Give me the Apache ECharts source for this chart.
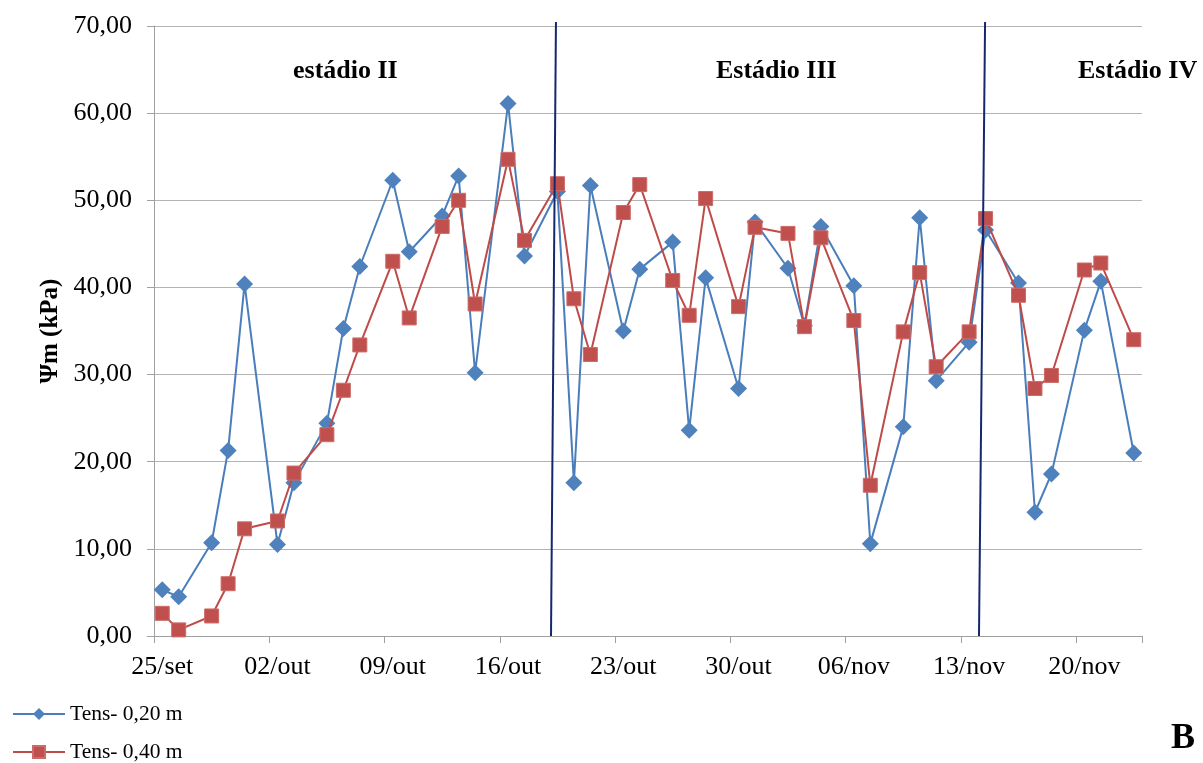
<!DOCTYPE html>
<html>
<head>
<meta charset="utf-8">
<script src="https://cdn.jsdelivr.net/npm/echarts@6/dist/echarts.min.js"></script>
<style>
  html, body { margin: 0; padding: 0; background: #ffffff; }
  #chart { width: 1203px; height: 763px; }
</style>
</head>
<body>
<div id="chart"></div>
<script>
// Daily axis: 25/set .. 23/nov (60 days), one category per day
const MONTH_NAMES = ['set', 'out', 'nov'];
const MONTH_LENGTHS = [30, 31, 30];
const FIRST_DAY = 25;
const DAY_COUNT = 60;

// Reading dates
const dates = [
  '25/set', '26/set', '28/set', '29/set', '30/set',
  '02/out', '03/out', '05/out', '06/out', '07/out', '09/out', '10/out', '12/out',
  '13/out', '14/out', '16/out', '17/out', '19/out', '20/out', '21/out', '23/out',
  '24/out', '26/out', '27/out', '28/out', '30/out', '31/out',
  '02/nov', '03/nov', '04/nov', '06/nov', '07/nov', '09/nov', '10/nov', '11/nov',
  '13/nov', '14/nov', '16/nov', '17/nov', '18/nov', '20/nov', '21/nov', '23/nov'
];

// Matric potential (kPa), tensiometer at 0,20 m
const tens020 = [
  5.3, 4.5, 10.7, 21.3, 40.4,
  10.5, 17.6, 24.4, 35.3, 42.4, 52.3, 44.1, 48.2,
  52.8, 30.2, 61.1, 43.6, 51.0, 17.6, 51.7, 35.0,
  42.1, 45.2, 23.6, 41.1, 28.4, 47.5,
  42.2, 35.6, 47.0, 40.2, 10.6, 24.0, 48.0, 29.3,
  33.7, 46.6, 40.5, 14.2, 18.6, 35.1, 40.7, 21.0
];

// Matric potential (kPa), tensiometer at 0,40 m
const tens040 = [
  2.6, 0.7, 2.3, 6.0, 12.3,
  13.2, 18.7, 23.1, 28.2, 33.4, 43.0, 36.5, 47.0,
  50.0, 38.1, 54.7, 45.4, 51.9, 38.7, 32.3, 48.6,
  51.8, 40.8, 36.8, 50.2, 37.8, 46.9,
  46.2, 35.5, 45.7, 36.2, 17.3, 34.9, 41.7, 30.9,
  34.9, 47.9, 39.1, 28.4, 29.9, 42.0, 42.8, 34.0
];

// Stage boundaries, in days from 25/set (top and bottom ends of each divider)
const stageBreaks = [
  { top: 24.41, bottom: 24.11 },
  { top: 50.47, bottom: 50.10 }
];

const stageNames = ['estádio II', 'Estádio III', 'Estádio IV'];
const seriesNames = ['Tens- 0,20 m', 'Tens- 0,40 m'];

// Build the day categories
const days = [];
{
  let m = 0, d = FIRST_DAY;
  for (let i = 0; i < DAY_COUNT; i++) {
    days.push(String(d).padStart(2, '0') + '/' + MONTH_NAMES[m]);
    d++;
    if (d > MONTH_LENGTHS[m]) { d = 1; m++; }
  }
}

const SERIF = "'Liberation Serif', 'Times New Roman', serif";
const GRID_GRAY = '#b4b4b4';
const AXIS_GRAY = '#a0a0a0';

const chart = echarts.init(document.getElementById('chart'), null, { renderer: 'canvas' });

const mainSeries = [
  {
    name: seriesNames[0],
    type: 'line',
    data: dates.map((d, i) => [d, tens020[i]]),
    symbol: 'diamond',
    symbolSize: 17,
    showAllSymbol: true,
    lineStyle: { color: '#4a7ebb', width: 2 },
    itemStyle: { color: '#4f81bd' },
    z: 2
  },
  {
    name: seriesNames[1],
    type: 'line',
    data: dates.map((d, i) => [d, tens040[i]]),
    symbol: 'rect',
    symbolSize: 14,
    showAllSymbol: true,
    lineStyle: { color: '#be4b48', width: 2 },
    itemStyle: { color: '#c0504d', borderColor: '#cd6b68', borderWidth: 1 },
    z: 3
  }
];

const dividerSeries = stageBreaks.map(b => ({
  type: 'line',
  xAxisIndex: 1,
  data: [[b.top, 70.45], [b.bottom, 0]],
  symbol: 'none',
  clip: false,
  silent: true,
  lineStyle: { color: '#14286e', width: 2 },
  z: 4
}));

chart.setOption({
  animation: false,
  backgroundColor: '#ffffff',
  grid: { left: 154, right: 61, top: 26, bottom: 127, containLabel: false },
  xAxis: [
    {
      type: 'category',
      data: days,
      boundaryGap: true,
      axisLine: { show: true, lineStyle: { color: AXIS_GRAY, width: 1 } },
      axisTick: { show: true, interval: 6, length: 7, lineStyle: { color: AXIS_GRAY } },
      axisLabel: {
        interval: 6,
        margin: 18,
        color: '#000',
        fontFamily: SERIF,
        fontSize: 26
      },
      splitLine: { show: false }
    },
    {
      type: 'value',
      min: 0,
      max: DAY_COUNT,
      show: false,
      splitLine: { show: false }
    }
  ],
  yAxis: {
    type: 'value',
    min: 0,
    max: 70,
    interval: 10,
    name: 'Ψm (kPa)',
    nameLocation: 'middle',
    nameGap: 85,
    nameTextStyle: { fontFamily: SERIF, fontSize: 25, fontWeight: 'bold', color: '#000' },
    axisLine: { show: true, lineStyle: { color: AXIS_GRAY, width: 1 } },
    axisTick: { show: true, length: 7, lineStyle: { color: AXIS_GRAY } },
    axisLabel: {
      margin: 22,
      color: '#000',
      fontFamily: SERIF,
      fontSize: 26,
      formatter: v => v.toFixed(2).replace('.', ',')
    },
    splitLine: { show: true, lineStyle: { color: GRID_GRAY, width: 1 } }
  },
  legend: {
    data: seriesNames,
    orient: 'vertical',
    left: 12,
    top: 703,
    height: 60,
    padding: 0,
    itemWidth: 52,
    itemHeight: 15,
    itemGap: 16,
    textStyle: { fontFamily: SERIF, fontSize: 21.5, color: '#000', lineHeight: 22 }
  },
  graphic: [
    {
      type: 'text', left: 293, top: 58,
      style: { text: stageNames[0], font: 'bold 26px ' + SERIF, fill: '#000' }
    },
    {
      type: 'text', left: 716, top: 58,
      style: { text: stageNames[1], font: 'bold 26px ' + SERIF, fill: '#000' }
    },
    {
      type: 'text', left: 1078, top: 58,
      style: { text: stageNames[2], font: 'bold 26px ' + SERIF, fill: '#000' }
    },
    {
      type: 'text', right: 8, top: 721,
      style: { text: 'B', font: 'bold 36px ' + SERIF, fill: '#000' }
    }
  ],
  series: mainSeries.concat(dividerSeries)
});
</script>
</body>
</html>
